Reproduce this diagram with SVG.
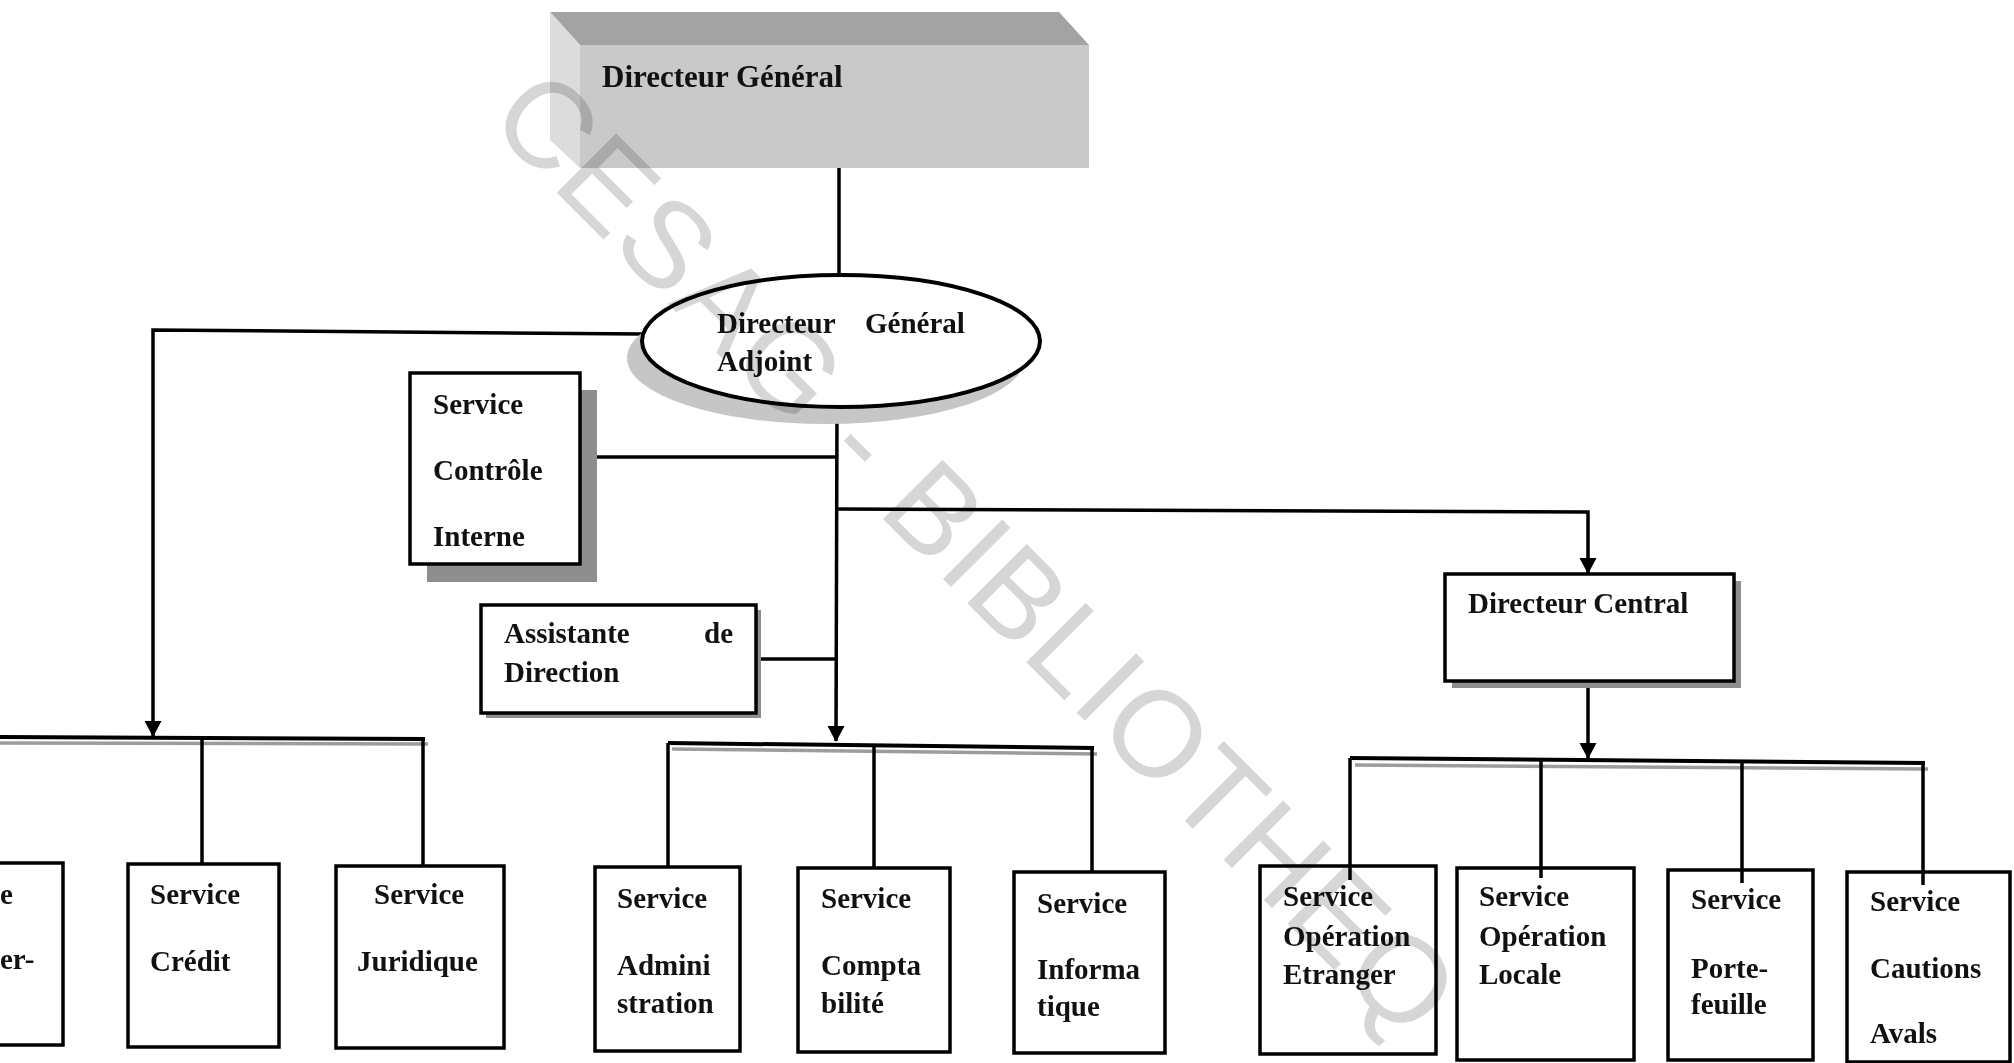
<svg xmlns="http://www.w3.org/2000/svg" width="2014" height="1063" viewBox="0 0 2014 1063">
<style>
  .t { font-family: "Liberation Serif", "Times New Roman", serif; font-weight: bold; font-size: 29px; fill: #111; }
  .box { fill: #fff; stroke: #000; stroke-width: 3.5; }
  .shadow { fill: #8e8e8e; }
  .ln { fill: none; stroke: #000; stroke-width: 3.5; }
  .bus { fill: none; stroke: #000; stroke-width: 4; }
  .busg { fill: none; stroke: #9c9c9c; stroke-width: 3.5; }
  .arr { fill: none; stroke: #000; stroke-width: 3.5; marker-end: url(#ah); }
  .wm { font-family: "Liberation Sans", Arial, sans-serif; font-size: 122px; letter-spacing: 2px; fill: #d6d6d6; mix-blend-mode: multiply; }
</style>
<defs>
  <marker id="ah" markerUnits="userSpaceOnUse" markerWidth="17" markerHeight="18" refX="15" refY="8.5" orient="auto">
    <path d="M0,0 L16,8.5 L0,17 z" fill="#000"/>
  </marker>
</defs>
<rect x="0" y="0" width="2014" height="1063" fill="#fff"/>

<g id="connectors">
  <line class="ln" x1="839" y1="168" x2="839" y2="276"/>
  <polyline class="arr" points="643,334 153,330 153,736"/>
  <polyline class="arr" points="837,407 836,741"/>
  <line class="ln" x1="580" y1="457" x2="837" y2="457"/>
  <line class="ln" x1="756" y1="659" x2="837" y2="659"/>
  <polyline class="arr" points="836,509 1588,512 1588,573"/>
  <polyline class="arr" points="1588,682 1588,758"/>
  <line class="busg" x1="0" y1="743" x2="428" y2="744"/>
  <line class="bus" x1="0" y1="737" x2="425" y2="739"/>
  <line class="ln" x1="202" y1="737" x2="202" y2="864"/>
  <line class="ln" x1="423" y1="739" x2="423" y2="866"/>
  <line class="busg" x1="672" y1="749" x2="1097" y2="754"/>
  <line class="bus" x1="668" y1="743" x2="1094" y2="748"/>
  <line class="ln" x1="668" y1="743" x2="668" y2="867"/>
  <line class="ln" x1="874" y1="745" x2="874" y2="868"/>
  <line class="ln" x1="1092" y1="748" x2="1092" y2="872"/>
  <line class="busg" x1="1355" y1="765" x2="1928" y2="769"/>
  <line class="bus" x1="1350" y1="758" x2="1925" y2="763"/>
</g>

<g id="dg">
  <polygon points="550,12 1059,12 1089,45 580,45" fill="#a3a3a3"/>
  <polygon points="550,12 580,45 580,168 550,140" fill="#dcdcdc"/>
  <rect x="580" y="45" width="509" height="123" fill="#c9c9c9"/>
  <text class="t" x="602" y="87" style="font-size:31px">Directeur Général</text>
</g>

<g id="dga">
  <ellipse cx="826" cy="358" rx="199" ry="66" fill="#c6c6c6"/>
  <ellipse cx="841" cy="341" rx="199" ry="66" fill="#fff" stroke="#000" stroke-width="4"/>
  <text class="t" x="717" y="333">Directeur <tspan x="865">Général</tspan></text>
  <text class="t" x="717" y="371">Adjoint</text>
</g>

<g id="controle">
  <rect class="shadow" x="427" y="390" width="170" height="192"/>
  <rect class="box" x="410" y="373" width="170" height="191"/>
  <text class="t" x="433" y="414">Service</text>
  <text class="t" x="433" y="480">Contrôle</text>
  <text class="t" x="433" y="546">Interne</text>
</g>

<g id="assistante">
  <rect class="shadow" x="486" y="610" width="275" height="108"/>
  <rect class="box" x="481" y="605" width="275" height="108"/>
  <text class="t" x="504" y="643">Assistante <tspan x="704">de</tspan></text>
  <text class="t" x="504" y="682">Direction</text>
</g>

<g id="dc">
  <rect class="shadow" x="1452" y="581" width="289" height="107"/>
  <rect class="box" x="1445" y="574" width="289" height="107"/>
  <text class="t" x="1468" y="613">Directeur Central</text>
</g>

<g id="s-partial">
  <rect class="box" x="-100" y="863" width="163" height="182"/>
  <text class="t" x="0" y="904">e</text>
  <text class="t" x="0" y="969">er-</text>
</g>
<g id="s-credit">
  <rect class="box" x="128" y="864" width="151" height="183"/>
  <text class="t" x="150" y="904">Service</text>
  <text class="t" x="150" y="971">Crédit</text>
</g>
<g id="s-juridique">
  <rect class="box" x="336" y="866" width="168" height="182"/>
  <text class="t" x="374" y="904">Service</text>
  <text class="t" x="357" y="971">Juridique</text>
</g>
<g id="s-admin">
  <rect class="box" x="595" y="867" width="145" height="184"/>
  <text class="t" x="617" y="908">Service</text>
  <text class="t" x="617" y="975">Admini</text>
  <text class="t" x="617" y="1013">stration</text>
</g>
<g id="s-compta">
  <rect class="box" x="798" y="868" width="152" height="184"/>
  <text class="t" x="821" y="908">Service</text>
  <text class="t" x="821" y="975">Compta</text>
  <text class="t" x="821" y="1013">bilité</text>
</g>
<g id="s-info">
  <rect class="box" x="1014" y="872" width="151" height="181"/>
  <text class="t" x="1037" y="913">Service</text>
  <text class="t" x="1037" y="979">Informa</text>
  <text class="t" x="1037" y="1016">tique</text>
</g>
<g id="s-etranger">
  <rect class="box" x="1260" y="866" width="176" height="188"/>
  <text class="t" x="1283" y="906">Service</text>
  <text class="t" x="1283" y="946">Opération</text>
  <text class="t" x="1283" y="984">Etranger</text>
</g>
<g id="s-locale">
  <rect class="box" x="1457" y="868" width="177" height="192"/>
  <text class="t" x="1479" y="906">Service</text>
  <text class="t" x="1479" y="946">Opération</text>
  <text class="t" x="1479" y="984">Locale</text>
</g>
<g id="s-porte">
  <rect class="box" x="1668" y="870" width="145" height="190"/>
  <text class="t" x="1691" y="909">Service</text>
  <text class="t" x="1691" y="978">Porte-</text>
  <text class="t" x="1691" y="1014">feuille</text>
</g>
<g id="s-cautions">
  <rect class="box" x="1847" y="872" width="163" height="190"/>
  <text class="t" x="1870" y="911">Service</text>
  <text class="t" x="1870" y="978">Cautions</text>
  <text class="t" x="1870" y="1043">Avals</text>
</g>

<g id="bus-drops">
  <line class="ln" x1="1350" y1="758" x2="1350" y2="880"/>
  <line class="ln" x1="1541" y1="759" x2="1541" y2="878"/>
  <line class="ln" x1="1742" y1="761" x2="1742" y2="883"/>
  <line class="ln" x1="1923" y1="763" x2="1923" y2="885"/>
</g>

<text class="wm" x="0" y="0" transform="translate(486,122) rotate(45)">CESAG - BIBLIOTHEQ</text>
</svg>
